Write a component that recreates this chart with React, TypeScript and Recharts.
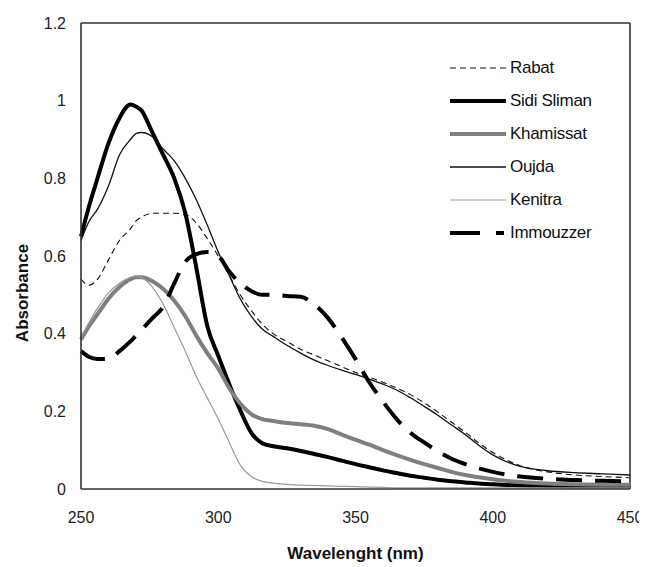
import React from 'react';
import { LineChart, Line, XAxis, YAxis, ReferenceLine } from 'recharts';

const wavelengths = [250,253,256,260,264,268,270,272,276,280,284,288,292,296,300,304,308,312,316,320,325,330,335,340,345,350,355,360,365,370,375,380,385,390,395,400,410,420,430,440,450];

const rabat = [0.54,0.525,0.54,0.59,0.64,0.67,0.69,0.70,0.71,0.71,0.71,0.707,0.685,0.645,0.60,0.55,0.50,0.46,0.425,0.40,0.38,0.36,0.345,0.33,0.315,0.30,0.288,0.275,0.26,0.243,0.222,0.198,0.172,0.146,0.118,0.094,0.06,0.044,0.036,0.032,0.029];
const sidiSliman = [0.65,0.73,0.80,0.89,0.955,0.99,0.985,0.975,0.918,0.86,0.80,0.71,0.57,0.42,0.343,0.27,0.203,0.145,0.118,0.11,0.105,0.098,0.09,0.082,0.073,0.064,0.056,0.048,0.041,0.034,0.029,0.024,0.02,0.017,0.014,0.012,0.009,0.008,0.007,0.007,0.007];
const khamissat = [0.385,0.42,0.45,0.49,0.52,0.54,0.545,0.545,0.535,0.515,0.485,0.445,0.395,0.35,0.31,0.26,0.22,0.193,0.18,0.175,0.17,0.167,0.163,0.154,0.14,0.127,0.114,0.1,0.087,0.075,0.064,0.054,0.044,0.036,0.03,0.025,0.018,0.014,0.012,0.011,0.011];
const oujda = [0.64,0.69,0.72,0.78,0.86,0.90,0.915,0.918,0.907,0.875,0.845,0.80,0.745,0.68,0.61,0.55,0.49,0.445,0.412,0.393,0.37,0.35,0.332,0.318,0.306,0.295,0.283,0.27,0.255,0.235,0.213,0.19,0.165,0.14,0.112,0.088,0.058,0.047,0.042,0.039,0.036];
const kenitra = [0.39,0.43,0.465,0.505,0.53,0.545,0.548,0.545,0.52,0.475,0.415,0.355,0.29,0.235,0.18,0.12,0.062,0.032,0.02,0.015,0.012,0.01,0.009,0.008,0.007,0.006,0.005,0.004,0.003,0.003,0.003,0.003,0.003,0.003,0.003,0.003,0.003,0.003,0.003,0.003,0.003];
const immouzzer = [0.355,0.34,0.335,0.335,0.355,0.38,0.395,0.41,0.44,0.47,0.53,0.585,0.605,0.61,0.60,0.56,0.53,0.51,0.50,0.50,0.497,0.495,0.475,0.44,0.39,0.335,0.275,0.225,0.18,0.145,0.12,0.097,0.078,0.064,0.053,0.044,0.032,0.026,0.023,0.021,0.02];

const xTicks = [250, 300, 350, 400, 450];
const yTicks = [0, 0.2, 0.4, 0.6, 0.8, 1, 1.2];

const series = [
  { key: 'rabat', name: 'Rabat', values: rabat, color: '#111', width: 1.1, dash: '6 4', legendDash: '6 4' },
  { key: 'sidi', name: 'Sidi Sliman', values: sidiSliman, color: '#000', width: 4, dash: undefined, legendDash: undefined },
  { key: 'khamissat', name: 'Khamissat', values: khamissat, color: '#7f7f7f', width: 4, dash: undefined, legendDash: undefined },
  { key: 'oujda', name: 'Oujda', values: oujda, color: '#111', width: 1.3, dash: undefined, legendDash: undefined },
  { key: 'kenitra', name: 'Kenitra', values: kenitra, color: '#9a9a9a', width: 1.2, dash: undefined, legendDash: undefined },
  { key: 'immouzzer', name: 'Immouzzer', values: immouzzer, color: '#000', width: 4, dash: '26 13', legendDash: '30 16 8 100' },
];

const data = wavelengths.map((w, i) => {
  const row: Record<string, number> = { wl: w };
  series.forEach((s) => { row[s.key] = s.values[i]; });
  return row;
});

const FONT = '"Liberation Sans", Arial, sans-serif';

const YTitle = (props: any) => {
  const vb = props.viewBox;
  const plotLeft = vb.x + vb.width;
  const cx = plotLeft - 59;
  const cy = 285;
  return (
    <text x={cx} y={cy} transform={`rotate(-90 ${cx} ${cy})`} textAnchor="middle" dominantBaseline="central"
      style={{ fontFamily: FONT, fontSize: 17, fontWeight: 700, fill: '#111' }}>Absorbance</text>
  );
};

const XTitle = (props: any) => {
  const vb = props.viewBox;
  const cx = vb.x + vb.width / 2;
  const cy = vb.y + 64;
  return (
    <text x={cx} y={cy} textAnchor="middle" dominantBaseline="central"
      style={{ fontFamily: FONT, fontSize: 17, fontWeight: 700, fill: '#111' }}>Wavelenght (nm)</text>
  );
};

export default function App() {
  return (
    <div style={{ position: 'relative', width: 639, height: 559, background: '#fff' }}>
      <style>{`.recharts-surface{overflow:visible}`}</style>
      <LineChart width={639} height={559} data={data} margin={{ top: 15, right: 17, left: 13, bottom: 8 }}
        style={{ overflow: 'visible' }}>
        <XAxis dataKey="wl" type="number" domain={[250, 450]} ticks={xTicks} height={70}
          stroke="#333" strokeWidth={1.6} tickLine={false} tickSize={6} tickMargin={17}
          tick={{ fontFamily: FONT, fontSize: 16, fill: '#222' }} label={<XTitle />} />
        <YAxis type="number" domain={[0, 1.2]} ticks={yTicks} width={60}
          stroke="#333" strokeWidth={1.6} tickLine={false} tickSize={6} tickMargin={9}
          tick={{ fontFamily: FONT, fontSize: 16, fill: '#222' }} label={<YTitle />} />
        <ReferenceLine y={1.2} stroke="#333" strokeWidth={1.6} />
        <ReferenceLine x={450} stroke="#333" strokeWidth={1.6} />
        {series.map((s) => (
          <Line key={s.key} type="monotone" dataKey={s.key} name={s.name} stroke={s.color}
            strokeWidth={s.width} strokeDasharray={s.dash} dot={false} activeDot={false}
            isAnimationActive={false} />
        ))}
      </LineChart>
      <div style={{ position: 'absolute', left: 442, top: 43, fontFamily: FONT, fontSize: 17, color: '#111' }}>
        {series.map((s) => (
          <div key={s.key} style={{ display: 'flex', alignItems: 'center', height: 33 }}>
            <svg width={56} height={10} style={{ display: 'block' }}>
              <line x1={0} y1={5} x2={56} y2={5} stroke={s.color} strokeWidth={s.width}
                strokeDasharray={s.legendDash} />
            </svg>
            <span style={{ marginLeft: 4, letterSpacing: -0.3 }}>{s.name}</span>
          </div>
        ))}
      </div>
    </div>
  );
}
